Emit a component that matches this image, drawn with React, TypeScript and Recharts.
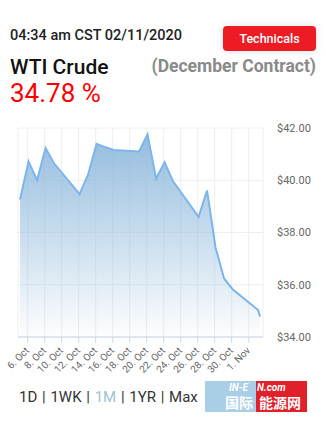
import React from 'react';
import { AreaChart, Area, XAxis, YAxis, CartesianGrid } from 'recharts';

// day number counted from 1 Oct 2020 (1 Nov = 32)
const days = [5.1, 6.1, 7.1, 8.1, 9.1, 12.1, 13.1, 14.1, 15.1, 16.1, 19.1, 20.1, 21.1, 22.1, 23.1, 26.1, 27.1, 28.1, 29.1, 30.1, 33.1, 33.33];
const prices = [39.26, 40.72, 40.0, 41.23, 40.65, 39.47, 40.21, 41.39, 41.27, 41.16, 41.1, 41.76, 40.06, 40.69, 39.96, 38.6, 39.61, 37.42, 36.24, 35.83, 35.03, 34.78];

const xTicks = [6, 8, 10, 12, 14, 16, 18, 20, 22, 24, 26, 28, 30, 32];
const xTickLabels = ['6. Oct', '8. Oct', '10. Oct', '12. Oct', '14. Oct', '16. Oct', '18. Oct', '20. Oct', '22. Oct', '24. Oct', '26. Oct', '28. Oct', '30. Oct', '1. Nov'];
const yTicks = [34, 36, 38, 40, 42];

const ranges = ['1D', '1WK', '1M', '1YR', 'Max'];

const data = days.map((d, i) => ({ day: d, price: prices[i] }));

const font = 'Roboto, "Noto Sans", sans-serif';

const XTick = ({ x, y, payload }: any) => {
  const idx = xTicks.indexOf(payload.value);
  return (
    <g transform={`translate(${x},${y + 4})`}>
      <text x={0} y={0} dy={3} textAnchor="end" transform="rotate(-45)" fill="#666" fontSize={10} fontFamily={font}>
        {xTickLabels[idx]}
      </text>
    </g>
  );
};

export default function App() {
  return (
    <div style={{ position: 'absolute', left: 0, top: 0, width: 326, height: 424, background: '#fff', fontFamily: font, overflow: 'hidden' }}>
      <div style={{ position: 'absolute', left: 10, top: 27, fontSize: 14.5, fontWeight: 500, color: '#222', whiteSpace: 'nowrap' }}>
        04:34 am CST 02/11/2020
      </div>
      <div style={{ position: 'absolute', left: 223, top: 26, width: 93, height: 25, background: '#ED1C24', borderRadius: 4, boxShadow: '0 0 8px rgba(0,0,0,0.12)', color: '#fff', fontSize: 12.5, fontWeight: 500, display: 'flex', alignItems: 'center', justifyContent: 'center' }}>
        Technicals
      </div>
      <div style={{ position: 'absolute', left: 10, top: 55, fontSize: 21, fontWeight: 500, color: '#111', whiteSpace: 'nowrap' }}>
        WTI Crude
      </div>
      <div style={{ position: 'absolute', right: 10, top: 56, fontSize: 17.5, fontWeight: 700, color: '#8a8a8a', whiteSpace: 'nowrap' }}>
        (December Contract)
      </div>
      <div style={{ position: 'absolute', left: 10, top: 78, fontSize: 26, fontWeight: 400, color: '#f00', whiteSpace: 'nowrap' }}>
        34.78 %
      </div>

      <div style={{ position: 'absolute', left: 0, top: 100 }}>
        <AreaChart width={326} height={280} data={data} margin={{ top: 28, right: 0, bottom: 0, left: 18 }}>
          <defs>
            <linearGradient id="oilFill" x1="0" y1="0" x2="0" y2="1">
              <stop offset="0%" stopColor="#8fb9dc" stopOpacity={0.95} />
              <stop offset="100%" stopColor="#8fb9dc" stopOpacity={0.02} />
            </linearGradient>
          </defs>
          <CartesianGrid stroke="#eeeeee" vertical={true} horizontal={true} />
          <XAxis
            dataKey="day"
            type="number"
            domain={[4.86, 33.68]}
            ticks={xTicks}
            interval={0}
            height={43}
            stroke="#ccd6eb"
            tickSize={6}
            tickMargin={2}
            tick={<XTick />}
            allowDataOverflow
          />
          <YAxis
            orientation="right"
            type="number"
            domain={[34, 42]}
            ticks={yTicks}
            width={63}
            axisLine={false}
            tickLine={false}
            tickMargin={8}
            tick={{ fill: '#666', fontSize: 11, fontFamily: font }}
            tickFormatter={(v: number) => `$${v.toFixed(2)}`}
          />
          <Area
            type="linear"
            dataKey="price"
            stroke="#7cb5ec"
            strokeWidth={2}
            fill="url(#oilFill)"
            fillOpacity={1}
            baseValue={34}
            dot={false}
            activeDot={false}
            isAnimationActive={false}
          />
        </AreaChart>
      </div>

      <div style={{ position: 'absolute', left: 19, top: 388, fontSize: 15, color: '#333', whiteSpace: 'nowrap', wordSpacing: 1 }}>
        {ranges.map((r, i) => (
          <span key={r}>
            <span style={{ color: r === '1M' ? '#9cc4d0' : '#333' }}>{r}</span>
            {i < ranges.length - 1 ? <span style={{ color: '#333' }}>{' | '}</span> : null}
          </span>
        ))}
      </div>

      <div style={{ position: 'absolute', left: 205, top: 381, width: 51, height: 31, background: '#a9cfe6' }}>
        <div style={{ position: 'absolute', left: 24, top: 1, fontSize: 10, lineHeight: '11px', fontStyle: 'italic', fontWeight: 700, color: '#fff' }}>IN-E</div>
        <div style={{ position: 'absolute', left: 20, top: 14, fontSize: 14, lineHeight: '15px', fontWeight: 700, color: '#fff', fontFamily: '"Noto Sans CJK SC"', whiteSpace: 'nowrap' }}>国际</div>
      </div>
      <div style={{ position: 'absolute', left: 256, top: 381, width: 51, height: 31, background: '#e0202a' }}>
        <div style={{ position: 'absolute', left: 1, top: 1, fontSize: 10, lineHeight: '11px', fontStyle: 'italic', fontWeight: 700, color: '#fff' }}>N.com</div>
        <div style={{ position: 'absolute', left: 3, top: 14, fontSize: 14, lineHeight: '15px', fontWeight: 700, color: '#fff', fontFamily: '"Noto Sans CJK SC"', whiteSpace: 'nowrap' }}>能源网</div>
      </div>
    </div>
  );
}
